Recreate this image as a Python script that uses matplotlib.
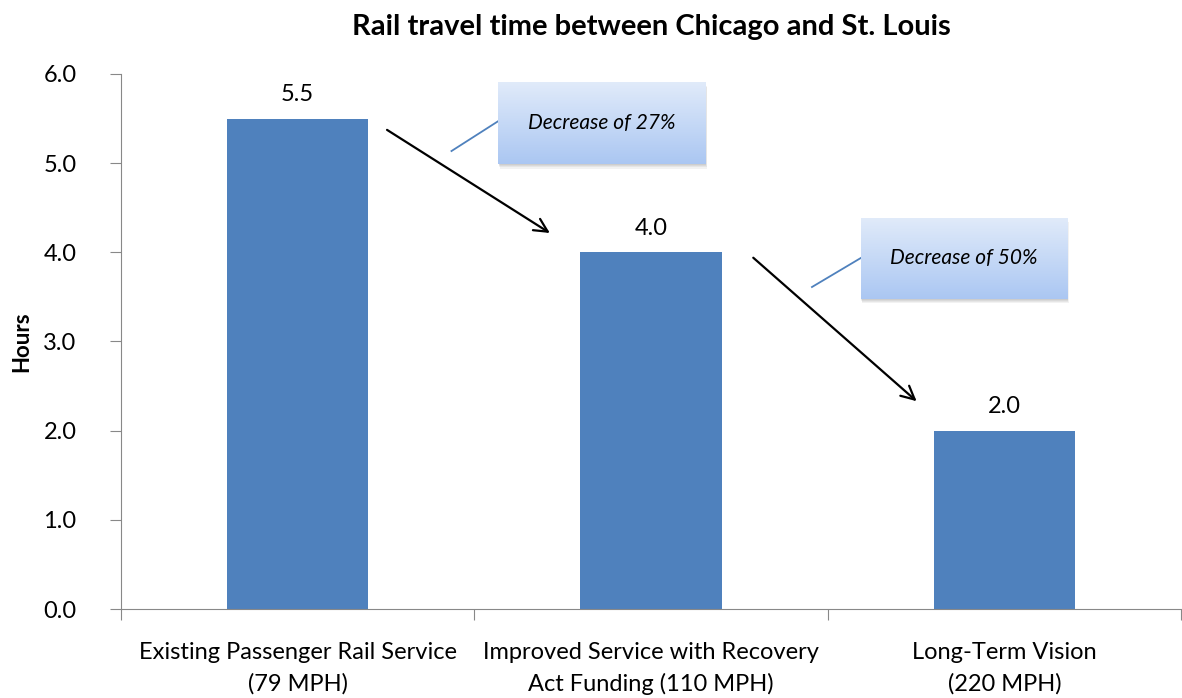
import numpy as np
import matplotlib.pyplot as plt
from matplotlib.patches import Rectangle

plt.rcParams['font.family'] = ['Lato', 'DejaVu Sans']

categories = ["Existing Passenger Rail Service\n(79 MPH)",
              "Improved Service with Recovery\nAct Funding (110 MPH)",
              "Long-Term Vision\n(220 MPH)"]
hours = [5.5, 4.0, 2.0]
callouts = ["Decrease of 27%", "Decrease of 50%"]

fig = plt.figure(figsize=(11.82, 6.98), dpi=100)
ax = fig.add_axes([0.1024, 0.1275, 0.897, 0.7665])

x = np.arange(len(hours))
ax.bar(x, hours, width=0.4, color="#4F81BD", zorder=2)
for xi, h in zip(x, hours):
    ax.text(xi, h + 0.15, "%.1f" % h, ha="center", va="bottom", fontsize=17)

ax.set_xlim(-0.5, 2.5)
ax.set_ylim(0, 6)
ax.set_yticks(np.arange(0, 6.1, 1.0))
ax.set_yticklabels(["%.1f" % v for v in np.arange(0, 6.1, 1.0)], fontsize=17)
ax.set_xticks([-0.5, 0.5, 1.5, 2.5])
ax.set_xticklabels([])
ax.set_xticks(x, minor=True)
ax.set_xticklabels(categories, minor=True, fontsize=17, linespacing=1.55)
ax.tick_params(axis="x", which="minor", length=0, pad=24)
ax.tick_params(axis="both", which="major", direction="out", length=8, color="#888888")
ax.tick_params(axis="y", pad=24)
for s in ["top", "right"]:
    ax.spines[s].set_visible(False)
for s in ["left", "bottom"]:
    ax.spines[s].set_color("#888888")
ax.set_ylabel("Hours", fontsize=16, fontweight="bold", labelpad=8)
ax.set_title("Rail travel time between Chicago and St. Louis", fontsize=21,
             fontweight="bold", pad=28)

# arrows between bars
arrows = [((0.246, 5.39), (0.72, 4.2)), ((1.283, 3.96), (1.757, 2.31))]
for (x0, y0), (x1, y1) in arrows:
    ax.annotate("", xy=(x1, y1), xytext=(x0, y0),
                arrowprops=dict(arrowstyle="->", color="black", lw=1.6,
                                mutation_scale=24), zorder=5)

# callout boxes with gradient
boxes = [(0.568, 1.155, 4.99, 5.90), (1.593, 2.178, 3.477, 4.385)]
leaders = [((0.435, 5.136), (0.568, 5.473)), ((1.455, 3.611), (1.593, 3.936))]
grad = np.linspace(0, 1, 100).reshape(-1, 1)
top = np.array([0.88, 0.92, 0.98])
bot = np.array([0.67, 0.78, 0.95])
img = top[None, None, :] * (1 - grad[:, :, None]) + bot[None, None, :] * grad[:, :, None]
for (bx0, bx1, by0, by1), txt, (p0, p1) in zip(boxes, callouts, leaders):
    for k in range(4):
        d = 0.0025 * (k + 1)
        ax.add_patch(Rectangle((bx0 + d * 0.3, by0 - d * 5), bx1 - bx0, by1 - by0,
                               facecolor="black", alpha=0.05, lw=0, zorder=5))
    ax.imshow(img, extent=(bx0, bx1, by0, by1), aspect="auto", zorder=6)
    ax.text((bx0 + bx1) / 2, (by0 + by1) / 2, txt, ha="center", va="center",
            fontsize=15, style="italic", zorder=7)
    ax.plot([p0[0], p1[0]], [p0[1], p1[1]], color="#4F81BD", lw=1.3, zorder=5)

ax.set_xlim(-0.5, 2.5)
ax.set_ylim(0, 6)
fig.savefig("out.png", dpi=100)
